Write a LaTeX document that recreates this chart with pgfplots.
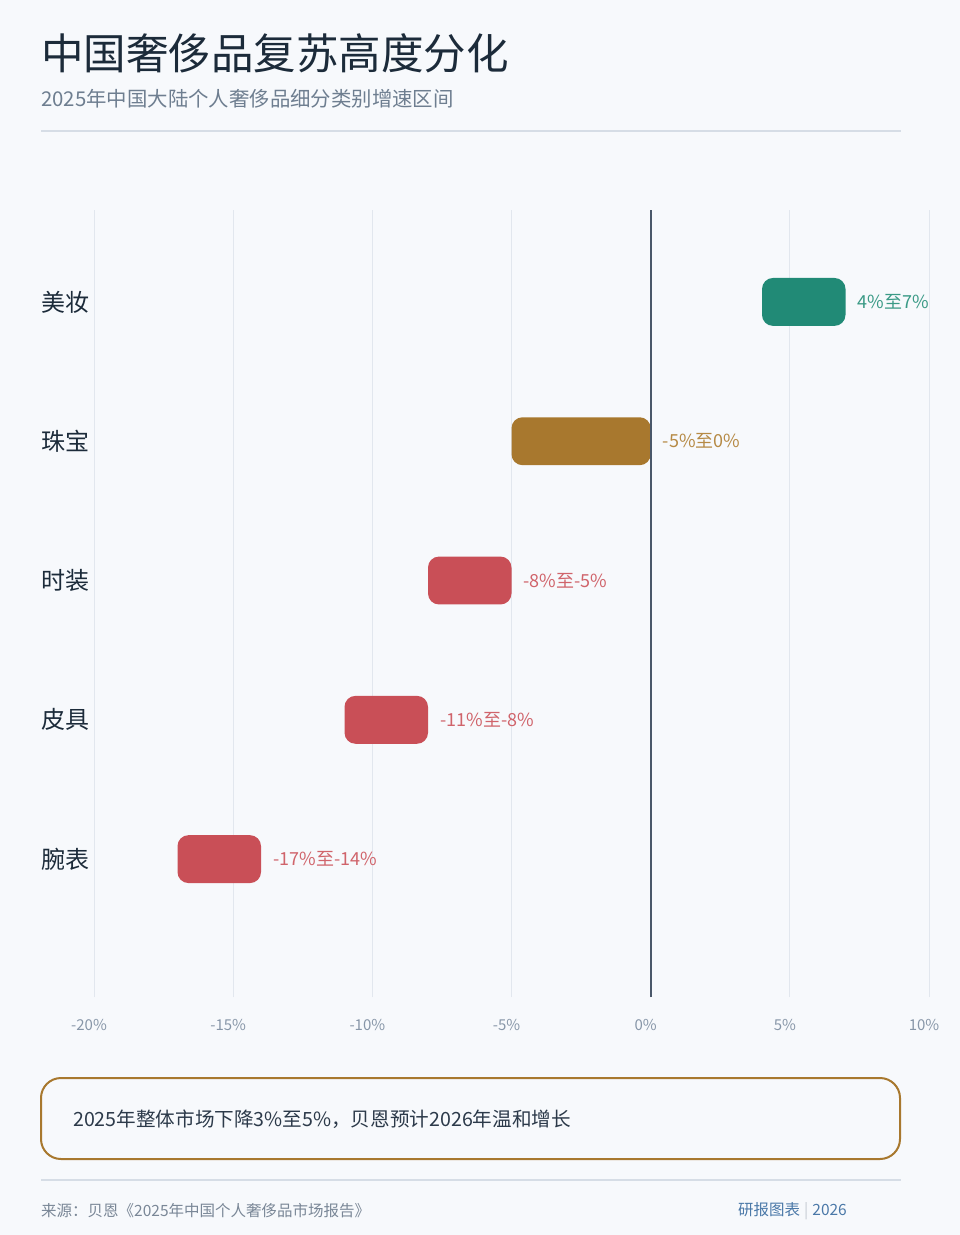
\documentclass[border=0pt]{standalone}
\usepackage{fontspec}
\setmainfont{Noto Sans CJK SC}
\usepackage{pgfplots}
\pgfplotsset{compat=1.18}

\definecolor{bg}{HTML}{F7F9FC}
\definecolor{titlecol}{HTML}{1C2B3A}
\definecolor{subcol}{HTML}{6E7E90}
\definecolor{rulecol}{HTML}{D6DDE6}
\definecolor{gridcol}{HTML}{E2E7EE}
\definecolor{zerocol}{HTML}{4A586A}
\definecolor{tickcol}{HTML}{8796A8}
\definecolor{teal}{HTML}{218A76}
\definecolor{gold}{HTML}{A8782E}
\definecolor{redbar}{HTML}{C94F57}
\definecolor{teallbl}{HTML}{3A9A86}
\definecolor{goldlbl}{HTML}{B68A45}
\definecolor{redlbl}{HTML}{D0646B}
\definecolor{boxtext}{HTML}{2C3A4A}
\definecolor{footcol}{HTML}{7A8797}
\definecolor{bluecol}{HTML}{4A78A8}

\newcommand{\fs}[1]{\fontsize{#1bp}{1.2\dimexpr#1bp\relax}\selectfont}

\begin{document}
\begin{tikzpicture}
\fill[bg] (0,0) rectangle (960bp,-1235bp);

% title block
\node[anchor=base west, inner sep=0, text=titlecol, font=\fs{42.5}] at (41bp,-69bp) {中国奢侈品复苏高度分化};
\node[anchor=base west, inner sep=0, text=subcol, font=\fs{20.4}] at (41bp,-106bp) {2025年中国大陆个人奢侈品细分类别增速区间};
\draw[rulecol, line width=1.5bp] (41bp,-131bp) -- (901bp,-131bp);

\begin{axis}[
  at={(94bp,-997bp)}, anchor=south west,
  scale only axis,
  width=835bp, height=787bp,
  xmin=-20, xmax=10,
  ymin=-0.99, ymax=4.66,
  clip=false,
  axis line style={draw=none},
  tick style={draw=none},
  major tick length=0,
  xtick={-20,-15,-10,-5,0,5,10},
  xticklabels={-20\%,-15\%,-10\%,-5\%,0\%,5\%,10\%},
  xticklabel style={font=\fs{15}, text=tickcol, anchor=center, yshift=-28bp, xshift=-5bp},
  ytick={0,1,2,3,4},
  yticklabels={腕表,皮具,时装,珠宝,美妆},
  yticklabel style={font=\fs{24}, text=titlecol, anchor=west, inner sep=0, xshift=-53bp},
  xmajorgrids,
  grid style={gridcol, line width=1bp},
]
% ranges (low, high) for each category, bar half height 0.172
\addplot[fill=teal, draw=none, rounded corners=11bp] coordinates {(4,3.828) (7,3.828) (7,4.172) (4,4.172)} -- cycle;
\addplot[fill=gold, draw=none, rounded corners=11bp] coordinates {(-5,2.828) (0,2.828) (0,3.172) (-5,3.172)} -- cycle;
\addplot[fill=redbar, draw=none, rounded corners=11bp] coordinates {(-8,1.828) (-5,1.828) (-5,2.172) (-8,2.172)} -- cycle;
\addplot[fill=redbar, draw=none, rounded corners=11bp] coordinates {(-11,0.828) (-8,0.828) (-8,1.172) (-11,1.172)} -- cycle;
\addplot[fill=redbar, draw=none, rounded corners=11bp] coordinates {(-17,-0.172) (-14,-0.172) (-14,0.172) (-17,0.172)} -- cycle;

\addplot[zerocol, line width=2bp] coordinates {(0,-0.99) (0,4.66)};

\node[anchor=west, inner sep=0, xshift=12bp, text=teallbl, font=\fs{18}] at (axis cs:7,4) {4\%至7\%};
\node[anchor=west, inner sep=0, xshift=12bp, text=goldlbl, font=\fs{18}] at (axis cs:0,3) {-5\%至0\%};
\node[anchor=west, inner sep=0, xshift=12bp, text=redlbl, font=\fs{18}] at (axis cs:-5,2) {-8\%至-5\%};
\node[anchor=west, inner sep=0, xshift=12bp, text=redlbl, font=\fs{18}] at (axis cs:-8,1) {-11\%至-8\%};
\node[anchor=west, inner sep=0, xshift=12bp, text=redlbl, font=\fs{18}] at (axis cs:-14,0) {-17\%至-14\%};
\end{axis}

% callout
\draw[gold, line width=2bp, rounded corners=20bp] (41bp,-1078bp) rectangle (900bp,-1159bp);
\node[anchor=west, inner sep=0, text=boxtext, font=\fs{19.6}] at (73bp,-1119bp) {2025年整体市场下降3\%至5\%，贝恩预计2026年温和增长};

% footer
\draw[rulecol, line width=1.5bp] (41bp,-1180bp) -- (901bp,-1180bp);
\node[anchor=west, inner sep=0, text=footcol, font=\fs{15.5}] at (41bp,-1211bp) {来源：贝恩《2025年中国个人奢侈品市场报告》};
\node[anchor=east, inner sep=0, font=\fs{15.5}] at (847bp,-1211bp) {\textcolor{bluecol}{研报图表}\hspace{4bp}\textcolor{rulecol!80!gray}{|}\hspace{4bp}\textcolor{bluecol}{2026}};
\end{tikzpicture}
\end{document}
